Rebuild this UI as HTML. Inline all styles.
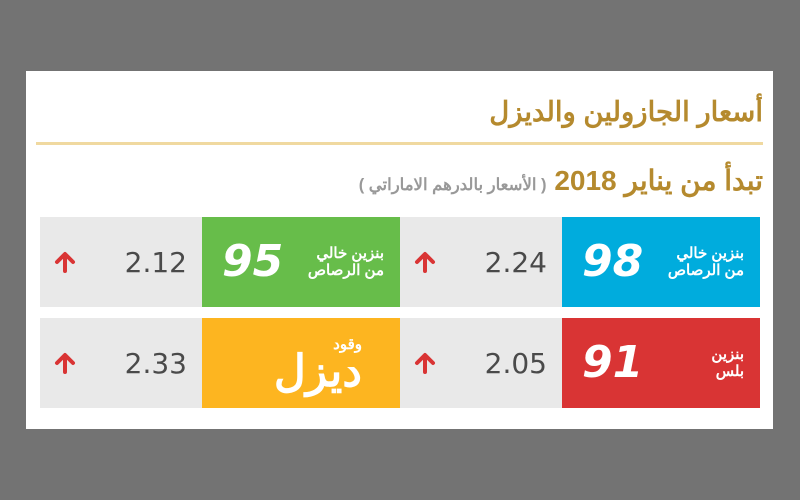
<!DOCTYPE html>
<html><head><meta charset="utf-8"><style>
body{margin:0;width:800px;height:500px;background:#737373;position:relative;overflow:hidden;font-family:"Liberation Sans","Noto Sans CJK SC",sans-serif}
.abs{position:absolute}
.card{left:26px;top:71px;width:747px;height:358px;background:#fff}
.gray{background:#e9e9e9;width:162px;height:90px}
.col{width:198px;height:90px;color:#fff}
.val{font-family:"DejaVu Sans",sans-serif;font-size:28px;color:#4a4a4a;text-align:right;width:147px;top:28px;line-height:36px;left:0}
.arr{left:14px;top:34px;width:22px;height:22px}
.big{font-family:"DejaVu Sans",sans-serif;font-weight:bold;font-style:italic;font-size:44px;line-height:50px;top:20px}
.lbl{font-size:15px;font-weight:bold;line-height:17px;text-align:right;direction:rtl;right:16px}
</style></head><body>
<div class="abs card"></div>
<div class="abs" style="right:37px;top:96px;font-size:27.5px;font-weight:bold;color:#b58a2e;direction:rtl;white-space:nowrap">أسعار الجازولين والديزل</div>
<div class="abs" style="left:36px;top:142px;width:727px;height:3px;background:#f0d9a0"></div>
<div class="abs" style="right:37px;top:164px;direction:rtl;white-space:nowrap;color:#b58a2e;font-weight:bold;font-size:28px">تبدأ من يناير 2018 <span style="font-size:16.5px;color:#999">( الأسعار بالدرهم الاماراتي )</span></div>

<div class="abs gray" style="left:400px;top:217px">
<svg class="abs arr" viewBox="0 0 22 22"><path d="M11 20V4M3 11l8-8 8 8" stroke="#d93434" stroke-width="4" fill="none" stroke-linecap="round" stroke-linejoin="round"/></svg>
<div class="abs val">2.24</div></div>
<div class="abs col" style="left:562px;top:217px;background:#00acdd">
<div class="abs big" style="left:20px">98</div>
<div class="abs lbl" style="top:28px">بنزين خالي<br>من الرصاص</div></div>

<div class="abs gray" style="left:40px;top:217px">
<svg class="abs arr" viewBox="0 0 22 22"><path d="M11 20V4M3 11l8-8 8 8" stroke="#d93434" stroke-width="4" fill="none" stroke-linecap="round" stroke-linejoin="round"/></svg>
<div class="abs val">2.12</div></div>
<div class="abs col" style="left:202px;top:217px;background:#67bd4a">
<div class="abs big" style="left:20px">95</div>
<div class="abs lbl" style="top:28px">بنزين خالي<br>من الرصاص</div></div>

<div class="abs gray" style="left:400px;top:318px">
<svg class="abs arr" viewBox="0 0 22 22"><path d="M11 20V4M3 11l8-8 8 8" stroke="#d93434" stroke-width="4" fill="none" stroke-linecap="round" stroke-linejoin="round"/></svg>
<div class="abs val">2.05</div></div>
<div class="abs col" style="left:562px;top:318px;background:#d93434">
<div class="abs big" style="left:20px">91</div>
<div class="abs lbl" style="top:28px">بنزين<br>بلس</div></div>

<div class="abs gray" style="left:40px;top:318px">
<svg class="abs arr" viewBox="0 0 22 22"><path d="M11 20V4M3 11l8-8 8 8" stroke="#d93434" stroke-width="4" fill="none" stroke-linecap="round" stroke-linejoin="round"/></svg>
<div class="abs val">2.33</div></div>
<div class="abs col" style="left:202px;top:318px;background:#fdb520">
<div class="abs lbl" style="top:18px;right:38px">وقود</div>
<div class="abs" style="right:38px;top:28px;font-size:44px;font-weight:bold;direction:rtl;line-height:52px">ديزل</div></div>
</body></html>
